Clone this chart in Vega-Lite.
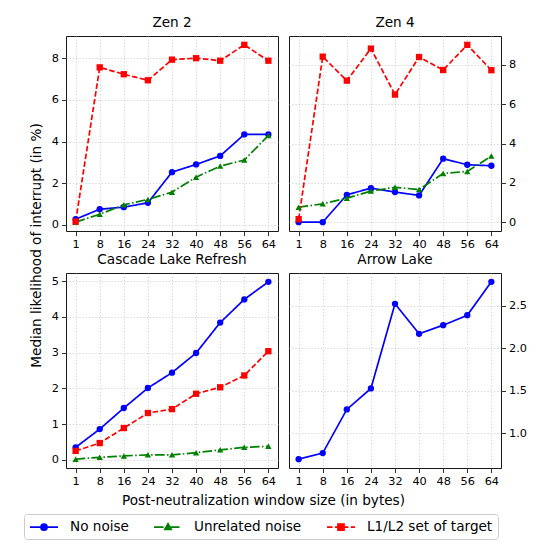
{
  "$schema": "https://vega.github.io/schema/vega-lite/v6.json",
  "padding": {"left": 23, "top": 15, "right": 5, "bottom": 5},
  "background": "white",
  "data": {
    "values": [
      {"panel": "Zen 2", "series": "No noise", "size": 1, "value": 0.27},
      {"panel": "Zen 2", "series": "No noise", "size": 8, "value": 0.75},
      {"panel": "Zen 2", "series": "No noise", "size": 16, "value": 0.85},
      {"panel": "Zen 2", "series": "No noise", "size": 24, "value": 1.06},
      {"panel": "Zen 2", "series": "No noise", "size": 32, "value": 2.53},
      {"panel": "Zen 2", "series": "No noise", "size": 40, "value": 2.90},
      {"panel": "Zen 2", "series": "No noise", "size": 48, "value": 3.31},
      {"panel": "Zen 2", "series": "No noise", "size": 56, "value": 4.34},
      {"panel": "Zen 2", "series": "No noise", "size": 64, "value": 4.34},
      {"panel": "Zen 2", "series": "Unrelated noise", "size": 1, "value": 0.13},
      {"panel": "Zen 2", "series": "Unrelated noise", "size": 8, "value": 0.51},
      {"panel": "Zen 2", "series": "Unrelated noise", "size": 16, "value": 0.96},
      {"panel": "Zen 2", "series": "Unrelated noise", "size": 24, "value": 1.22},
      {"panel": "Zen 2", "series": "Unrelated noise", "size": 32, "value": 1.57},
      {"panel": "Zen 2", "series": "Unrelated noise", "size": 40, "value": 2.29},
      {"panel": "Zen 2", "series": "Unrelated noise", "size": 48, "value": 2.82},
      {"panel": "Zen 2", "series": "Unrelated noise", "size": 56, "value": 3.11},
      {"panel": "Zen 2", "series": "Unrelated noise", "size": 64, "value": 4.29},
      {"panel": "Zen 2", "series": "L1/L2 set of target", "size": 1, "value": 0.16},
      {"panel": "Zen 2", "series": "L1/L2 set of target", "size": 8, "value": 7.56},
      {"panel": "Zen 2", "series": "L1/L2 set of target", "size": 16, "value": 7.23},
      {"panel": "Zen 2", "series": "L1/L2 set of target", "size": 24, "value": 6.94},
      {"panel": "Zen 2", "series": "L1/L2 set of target", "size": 32, "value": 7.93},
      {"panel": "Zen 2", "series": "L1/L2 set of target", "size": 40, "value": 8.00},
      {"panel": "Zen 2", "series": "L1/L2 set of target", "size": 48, "value": 7.88},
      {"panel": "Zen 2", "series": "L1/L2 set of target", "size": 56, "value": 8.64},
      {"panel": "Zen 2", "series": "L1/L2 set of target", "size": 64, "value": 7.88},
      {"panel": "Zen 4", "series": "No noise", "size": 1, "value": 0.0},
      {"panel": "Zen 4", "series": "No noise", "size": 8, "value": 0.0},
      {"panel": "Zen 4", "series": "No noise", "size": 16, "value": 1.39},
      {"panel": "Zen 4", "series": "No noise", "size": 24, "value": 1.73},
      {"panel": "Zen 4", "series": "No noise", "size": 32, "value": 1.53},
      {"panel": "Zen 4", "series": "No noise", "size": 40, "value": 1.36},
      {"panel": "Zen 4", "series": "No noise", "size": 48, "value": 3.23},
      {"panel": "Zen 4", "series": "No noise", "size": 56, "value": 2.92},
      {"panel": "Zen 4", "series": "No noise", "size": 64, "value": 2.87},
      {"panel": "Zen 4", "series": "Unrelated noise", "size": 1, "value": 0.76},
      {"panel": "Zen 4", "series": "Unrelated noise", "size": 8, "value": 0.93},
      {"panel": "Zen 4", "series": "Unrelated noise", "size": 16, "value": 1.22},
      {"panel": "Zen 4", "series": "Unrelated noise", "size": 24, "value": 1.58},
      {"panel": "Zen 4", "series": "Unrelated noise", "size": 32, "value": 1.77},
      {"panel": "Zen 4", "series": "Unrelated noise", "size": 40, "value": 1.66},
      {"panel": "Zen 4", "series": "Unrelated noise", "size": 48, "value": 2.48},
      {"panel": "Zen 4", "series": "Unrelated noise", "size": 56, "value": 2.58},
      {"panel": "Zen 4", "series": "Unrelated noise", "size": 64, "value": 3.36},
      {"panel": "Zen 4", "series": "L1/L2 set of target", "size": 1, "value": 0.15},
      {"panel": "Zen 4", "series": "L1/L2 set of target", "size": 8, "value": 8.42},
      {"panel": "Zen 4", "series": "L1/L2 set of target", "size": 16, "value": 7.20},
      {"panel": "Zen 4", "series": "L1/L2 set of target", "size": 24, "value": 8.83},
      {"panel": "Zen 4", "series": "L1/L2 set of target", "size": 32, "value": 6.49},
      {"panel": "Zen 4", "series": "L1/L2 set of target", "size": 40, "value": 8.40},
      {"panel": "Zen 4", "series": "L1/L2 set of target", "size": 48, "value": 7.74},
      {"panel": "Zen 4", "series": "L1/L2 set of target", "size": 56, "value": 9.02},
      {"panel": "Zen 4", "series": "L1/L2 set of target", "size": 64, "value": 7.73},
      {"panel": "Cascade Lake Refresh", "series": "No noise", "size": 1, "value": 0.35},
      {"panel": "Cascade Lake Refresh", "series": "No noise", "size": 8, "value": 0.86},
      {"panel": "Cascade Lake Refresh", "series": "No noise", "size": 16, "value": 1.45},
      {"panel": "Cascade Lake Refresh", "series": "No noise", "size": 24, "value": 2.01},
      {"panel": "Cascade Lake Refresh", "series": "No noise", "size": 32, "value": 2.44},
      {"panel": "Cascade Lake Refresh", "series": "No noise", "size": 40, "value": 2.99},
      {"panel": "Cascade Lake Refresh", "series": "No noise", "size": 48, "value": 3.84},
      {"panel": "Cascade Lake Refresh", "series": "No noise", "size": 56, "value": 4.49},
      {"panel": "Cascade Lake Refresh", "series": "No noise", "size": 64, "value": 4.98},
      {"panel": "Cascade Lake Refresh", "series": "Unrelated noise", "size": 1, "value": 0.02},
      {"panel": "Cascade Lake Refresh", "series": "Unrelated noise", "size": 8, "value": 0.07},
      {"panel": "Cascade Lake Refresh", "series": "Unrelated noise", "size": 16, "value": 0.11},
      {"panel": "Cascade Lake Refresh", "series": "Unrelated noise", "size": 24, "value": 0.14},
      {"panel": "Cascade Lake Refresh", "series": "Unrelated noise", "size": 32, "value": 0.14},
      {"panel": "Cascade Lake Refresh", "series": "Unrelated noise", "size": 40, "value": 0.20},
      {"panel": "Cascade Lake Refresh", "series": "Unrelated noise", "size": 48, "value": 0.28},
      {"panel": "Cascade Lake Refresh", "series": "Unrelated noise", "size": 56, "value": 0.35},
      {"panel": "Cascade Lake Refresh", "series": "Unrelated noise", "size": 64, "value": 0.38},
      {"panel": "Cascade Lake Refresh", "series": "L1/L2 set of target", "size": 1, "value": 0.25},
      {"panel": "Cascade Lake Refresh", "series": "L1/L2 set of target", "size": 8, "value": 0.47},
      {"panel": "Cascade Lake Refresh", "series": "L1/L2 set of target", "size": 16, "value": 0.89},
      {"panel": "Cascade Lake Refresh", "series": "L1/L2 set of target", "size": 24, "value": 1.31},
      {"panel": "Cascade Lake Refresh", "series": "L1/L2 set of target", "size": 32, "value": 1.42},
      {"panel": "Cascade Lake Refresh", "series": "L1/L2 set of target", "size": 40, "value": 1.85},
      {"panel": "Cascade Lake Refresh", "series": "L1/L2 set of target", "size": 48, "value": 2.03},
      {"panel": "Cascade Lake Refresh", "series": "L1/L2 set of target", "size": 56, "value": 2.36},
      {"panel": "Cascade Lake Refresh", "series": "L1/L2 set of target", "size": 64, "value": 3.04},
      {"panel": "Arrow Lake", "series": "No noise", "size": 1, "value": 0.698},
      {"panel": "Arrow Lake", "series": "No noise", "size": 8, "value": 0.769},
      {"panel": "Arrow Lake", "series": "No noise", "size": 16, "value": 1.282},
      {"panel": "Arrow Lake", "series": "No noise", "size": 24, "value": 1.529},
      {"panel": "Arrow Lake", "series": "No noise", "size": 32, "value": 2.524},
      {"panel": "Arrow Lake", "series": "No noise", "size": 40, "value": 2.171},
      {"panel": "Arrow Lake", "series": "No noise", "size": 48, "value": 2.273},
      {"panel": "Arrow Lake", "series": "No noise", "size": 56, "value": 2.39},
      {"panel": "Arrow Lake", "series": "No noise", "size": 64, "value": 2.782}
    ]
  },
  "columns": 2,
  "spacing": {"row": 42, "column": 11},
  "bounds": "flush",
  "concat": [
    {
      "title": "Zen 2",
      "width": 212,
      "height": 195,
      "transform": [{"filter": "datum.panel === 'Zen 2'"}],
      "encoding": {
        "x": {"field": "size", "type": "ordinal", "scale": {"type": "point", "padding": 0.4}, "axis": {"title": null}},
        "y": {"field": "value", "type": "quantitative", "scale": {"domain": [-0.2955, 9.0655], "nice": false, "zero": false},
          "axis": {"orient": "left", "values": [0, 2, 4, 6, 8], "title": "Median likelihood of interrupt (in %)", "titleX": -30, "titleY": 209, "titleAlign": "center", "titleBaseline": "middle", "titleAngle": 270}},
        "color": {"field": "series", "type": "nominal",
          "scale": {"domain": ["No noise", "Unrelated noise", "L1/L2 set of target"], "range": ["#0000ff", "#008000", "#ff0000"]},
          "legend": {"orient": "none", "legendX": -42, "legendY": 478, "direction": "horizontal", "columns": 3, "title": null, "symbolSize": 196, "labelOffset": 25, "columnPadding": 21, "padding": 5, "strokeColor": "#cccccc", "fillColor": "white", "cornerRadius": 3, "labelFontSize": 13.6, "labelFont": "DejaVu Sans", "labelColor": "black",
            "encode": {"symbols": {"update": {
              "shape": {"signal": "datum.value === 'No noise' ? 'M-1,0H3M1.43,0A0.43,0.43,0,1,1,0.57,0A0.43,0.43,0,1,1,1.43,0Z' : datum.value === 'Unrelated noise' ? 'M-1,0H0.371M0.714,0H0.929M1.271,0H2.643M1,-0.5L1.45,0.3L0.55,0.3Z' : 'M-1,0H-0.207M0.136,0H0.929M1.271,0H2.064M2.407,0H3M0.57,-0.43H1.43V0.43H0.57Z'"},
              "fill": {"signal": "datum.value === 'No noise' ? '#0000ff' : datum.value === 'Unrelated noise' ? '#008000' : '#ff0000'"},
              "stroke": {"signal": "datum.value === 'No noise' ? '#0000ff' : datum.value === 'Unrelated noise' ? '#008000' : '#ff0000'"},
              "strokeWidth": {"value": 1.7},
              "opacity": {"value": 1}
            }}}}
        }
      },
      "layer": [
        {"mark": {"type": "line", "strokeWidth": 1.7},
          "encoding": {"strokeDash": {"field": "series", "type": "nominal", "legend": null, "scale": {"domain": ["Unrelated noise", "L1/L2 set of target", "No noise"], "range": [[9.6, 2.4, 1.5, 2.4], [5.5, 2.4], [1, 0]]}}}},
        {"mark": {"type": "point", "filled": true, "opacity": 1, "size": 40},
          "encoding": {"shape": {"field": "series", "type": "nominal", "legend": null, "scale": {"domain": ["L1/L2 set of target", "No noise", "Unrelated noise"], "range": ["square", "circle", "triangle-up"]}}}}
      ]
    },
    {
      "title": "Zen 4",
      "width": 212,
      "height": 195,
      "transform": [{"filter": "datum.panel === 'Zen 4'"}],
      "encoding": {
        "x": {"field": "size", "type": "ordinal", "scale": {"type": "point", "padding": 0.4}, "axis": {"title": null}},
        "y": {"field": "value", "type": "quantitative", "scale": {"domain": [-0.451, 9.471], "nice": false, "zero": false},
          "axis": {"orient": "right", "values": [0, 2, 4, 6, 8], "title": null}},
        "color": {"field": "series", "type": "nominal",
          "scale": {"domain": ["No noise", "Unrelated noise", "L1/L2 set of target"], "range": ["#0000ff", "#008000", "#ff0000"]},
          "legend": {"orient": "none", "legendX": -42, "legendY": 478, "direction": "horizontal", "columns": 3, "title": null, "symbolSize": 196, "labelOffset": 25, "columnPadding": 21, "padding": 5, "strokeColor": "#cccccc", "fillColor": "white", "cornerRadius": 3, "labelFontSize": 13.6, "labelFont": "DejaVu Sans", "labelColor": "black",
            "encode": {"symbols": {"update": {
              "shape": {"signal": "datum.value === 'No noise' ? 'M-1,0H3M1.43,0A0.43,0.43,0,1,1,0.57,0A0.43,0.43,0,1,1,1.43,0Z' : datum.value === 'Unrelated noise' ? 'M-1,0H0.371M0.714,0H0.929M1.271,0H2.643M1,-0.5L1.45,0.3L0.55,0.3Z' : 'M-1,0H-0.207M0.136,0H0.929M1.271,0H2.064M2.407,0H3M0.57,-0.43H1.43V0.43H0.57Z'"},
              "fill": {"signal": "datum.value === 'No noise' ? '#0000ff' : datum.value === 'Unrelated noise' ? '#008000' : '#ff0000'"},
              "stroke": {"signal": "datum.value === 'No noise' ? '#0000ff' : datum.value === 'Unrelated noise' ? '#008000' : '#ff0000'"},
              "strokeWidth": {"value": 1.7},
              "opacity": {"value": 1}
            }}}}
        }
      },
      "layer": [
        {"mark": {"type": "line", "strokeWidth": 1.7},
          "encoding": {"strokeDash": {"field": "series", "type": "nominal", "legend": null, "scale": {"domain": ["Unrelated noise", "L1/L2 set of target", "No noise"], "range": [[9.6, 2.4, 1.5, 2.4], [5.5, 2.4], [1, 0]]}}}},
        {"mark": {"type": "point", "filled": true, "opacity": 1, "size": 40},
          "encoding": {"shape": {"field": "series", "type": "nominal", "legend": null, "scale": {"domain": ["L1/L2 set of target", "No noise", "Unrelated noise"], "range": ["square", "circle", "triangle-up"]}}}}
      ]
    },
    {
      "title": "Cascade Lake Refresh",
      "width": 212,
      "height": 195,
      "transform": [{"filter": "datum.panel === 'Cascade Lake Refresh'"}],
      "encoding": {
        "x": {"field": "size", "type": "ordinal", "scale": {"type": "point", "padding": 0.4},
          "axis": {"title": "Post-neutralization window size (in bytes)", "titleX": 197, "titleY": 36, "titleAlign": "center", "titleBaseline": "alphabetic"}},
        "y": {"field": "value", "type": "quantitative", "scale": {"domain": [-0.228, 5.228], "nice": false, "zero": false},
          "axis": {"orient": "left", "values": [0, 1, 2, 3, 4, 5], "title": null}},
        "color": {"field": "series", "type": "nominal",
          "scale": {"domain": ["No noise", "Unrelated noise", "L1/L2 set of target"], "range": ["#0000ff", "#008000", "#ff0000"]},
          "legend": {"orient": "none", "legendX": -42, "legendY": 478, "direction": "horizontal", "columns": 3, "title": null, "symbolSize": 196, "labelOffset": 25, "columnPadding": 21, "padding": 5, "strokeColor": "#cccccc", "fillColor": "white", "cornerRadius": 3, "labelFontSize": 13.6, "labelFont": "DejaVu Sans", "labelColor": "black",
            "encode": {"symbols": {"update": {
              "shape": {"signal": "datum.value === 'No noise' ? 'M-1,0H3M1.43,0A0.43,0.43,0,1,1,0.57,0A0.43,0.43,0,1,1,1.43,0Z' : datum.value === 'Unrelated noise' ? 'M-1,0H0.371M0.714,0H0.929M1.271,0H2.643M1,-0.5L1.45,0.3L0.55,0.3Z' : 'M-1,0H-0.207M0.136,0H0.929M1.271,0H2.064M2.407,0H3M0.57,-0.43H1.43V0.43H0.57Z'"},
              "fill": {"signal": "datum.value === 'No noise' ? '#0000ff' : datum.value === 'Unrelated noise' ? '#008000' : '#ff0000'"},
              "stroke": {"signal": "datum.value === 'No noise' ? '#0000ff' : datum.value === 'Unrelated noise' ? '#008000' : '#ff0000'"},
              "strokeWidth": {"value": 1.7},
              "opacity": {"value": 1}
            }}}}
        }
      },
      "layer": [
        {"mark": {"type": "line", "strokeWidth": 1.7},
          "encoding": {"strokeDash": {"field": "series", "type": "nominal", "legend": null, "scale": {"domain": ["Unrelated noise", "L1/L2 set of target", "No noise"], "range": [[9.6, 2.4, 1.5, 2.4], [5.5, 2.4], [1, 0]]}}}},
        {"mark": {"type": "point", "filled": true, "opacity": 1, "size": 40},
          "encoding": {"shape": {"field": "series", "type": "nominal", "legend": null, "scale": {"domain": ["L1/L2 set of target", "No noise", "Unrelated noise"], "range": ["square", "circle", "triangle-up"]}}}}
      ]
    },
    {
      "title": "Arrow Lake",
      "width": 212,
      "height": 195,
      "transform": [{"filter": "datum.panel === 'Arrow Lake'"}],
      "encoding": {
        "x": {"field": "size", "type": "ordinal", "scale": {"type": "point", "padding": 0.4}, "axis": {"title": null}},
        "y": {"field": "value", "type": "quantitative", "scale": {"domain": [0.5938, 2.8862], "nice": false, "zero": false},
          "axis": {"orient": "right", "values": [1.0, 1.5, 2.0, 2.5], "format": ".1f", "title": null}},
        "color": {"field": "series", "type": "nominal",
          "scale": {"domain": ["No noise", "Unrelated noise", "L1/L2 set of target"], "range": ["#0000ff", "#008000", "#ff0000"]},
          "legend": {"orient": "none", "legendX": -42, "legendY": 478, "direction": "horizontal", "columns": 3, "title": null, "symbolSize": 196, "labelOffset": 25, "columnPadding": 21, "padding": 5, "strokeColor": "#cccccc", "fillColor": "white", "cornerRadius": 3, "labelFontSize": 13.6, "labelFont": "DejaVu Sans", "labelColor": "black",
            "encode": {"symbols": {"update": {
              "shape": {"signal": "datum.value === 'No noise' ? 'M-1,0H3M1.43,0A0.43,0.43,0,1,1,0.57,0A0.43,0.43,0,1,1,1.43,0Z' : datum.value === 'Unrelated noise' ? 'M-1,0H0.371M0.714,0H0.929M1.271,0H2.643M1,-0.5L1.45,0.3L0.55,0.3Z' : 'M-1,0H-0.207M0.136,0H0.929M1.271,0H2.064M2.407,0H3M0.57,-0.43H1.43V0.43H0.57Z'"},
              "fill": {"signal": "datum.value === 'No noise' ? '#0000ff' : datum.value === 'Unrelated noise' ? '#008000' : '#ff0000'"},
              "stroke": {"signal": "datum.value === 'No noise' ? '#0000ff' : datum.value === 'Unrelated noise' ? '#008000' : '#ff0000'"},
              "strokeWidth": {"value": 1.7},
              "opacity": {"value": 1}
            }}}}
        }
      },
      "layer": [
        {"mark": {"type": "line", "strokeWidth": 1.7}, "encoding": {}},
        {"mark": {"type": "point", "filled": true, "opacity": 1, "size": 40, "shape": "circle"}, "encoding": {}}
      ]
    }
  ],
  "config": {
    "font": "DejaVu Sans",
    "view": {"stroke": "#1a1a1a", "strokeWidth": 1},
    "title": {"fontSize": 13.6, "fontWeight": "normal", "font": "DejaVu Sans", "color": "black", "baseline": "alphabetic", "offset": 6, "anchor": "middle"},
    "axis": {
      "domain": false,
      "labelFont": "DejaVu Sans", "labelFontSize": 11.3, "labelColor": "black", "labelPadding": 3,
      "tickColor": "#1a1a1a", "tickSize": 4.5, "tickWidth": 0.9,
      "grid": true, "gridColor": "#c8c8c8", "gridDash": [1.2, 2], "gridWidth": 0.8,
      "titleFont": "DejaVu Sans", "titleFontSize": 13.6, "titleFontWeight": "normal", "titleColor": "black"
    },
    "axisX": {"labelAngle": 0}
  }
}
